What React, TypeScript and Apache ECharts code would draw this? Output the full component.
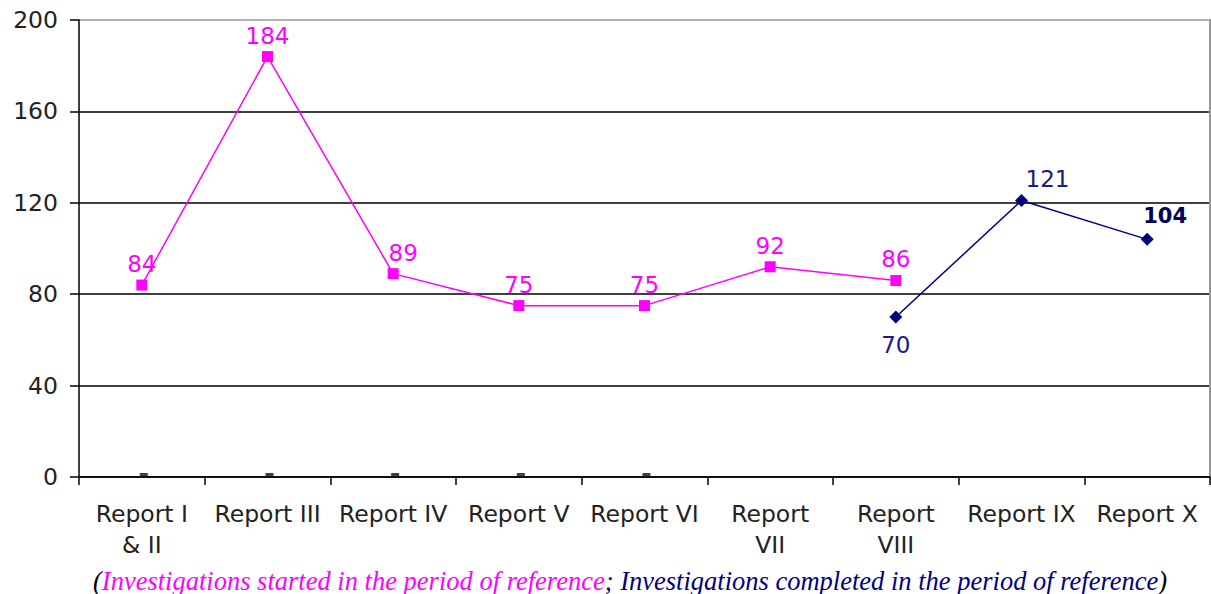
import React, { useEffect, useRef } from "react";
import * as echarts from "echarts";

const categories = [
  "Report I\n& II",
  "Report III",
  "Report IV",
  "Report V",
  "Report VI",
  "Report\nVII",
  "Report\nVIII",
  "Report IX",
  "Report X",
];
const startedValues: (number | null)[] = [84, 184, 89, 75, 75, 92, 86, null, null];
const completedValues: (number | null)[] = [null, null, null, null, null, null, 70, 121, 104];
const zeroMarks: (number | null)[] = [0, 0, 0, 0, 0, null, null, null, null];
const yTicks = [0, 40, 80, 120, 160, 200];

const MAGENTA = "#ff00ff";
const NAVY = "#000080";

export default function App() {
  const ref = useRef<HTMLDivElement>(null);
  useEffect(() => {
    document.body.style.margin = "0";
    const chart = echarts.init(ref.current!, null, { renderer: "svg" });
    const font = "DejaVu Sans";
    chart.setOption({
      animation: false,
      backgroundColor: "#ffffff",
      grid: { left: 79, right: 1, top: 20, bottom: 117, containLabel: false },
      xAxis: {
        type: "category",
        data: categories,
        boundaryGap: true,
        axisLine: { lineStyle: { color: "#000", width: 1.5 } },
        axisTick: { show: true, length: 8, lineStyle: { color: "#000", width: 1.5 } },
        axisLabel: {
          interval: 0,
          margin: 21,
          color: "#222",
          fontFamily: font,
          fontSize: 23.5,
          lineHeight: 31,
          align: "center",
        },
      },
      yAxis: [
        {
          type: "value",
          min: yTicks[0],
          max: yTicks[yTicks.length - 1],
          interval: 40,
          axisLine: { show: true, lineStyle: { color: "#000", width: 1.5 } },
          axisTick: { show: true, length: 9, lineStyle: { color: "#000", width: 1.5 } },
          axisLabel: {
            margin: 21,
            color: "#222",
            fontFamily: font,
            fontSize: 23.5,
          },
          splitLine: {
            show: true,
            lineStyle: {
              color: ["#000", "#000", "#000", "#000", "#000", "#999"],
              width: 1.5,
            },
          },
        },
        {
          type: "value",
          min: yTicks[0],
          max: yTicks[yTicks.length - 1],
          interval: 40,
          position: "right",
          axisLine: { show: true, lineStyle: { color: "#999", width: 2 } },
          axisTick: { show: false },
          axisLabel: { show: false },
          splitLine: { show: false },
        },
      ],
      series: [
        {
          name: "Investigations started",
          type: "line",
          data: startedValues.map((v, i) =>
            i === 2 ? { value: v, label: { offset: [10, 0] } } : v
          ),
          connectNulls: false,
          symbol: "rect",
          symbolSize: 11,
          itemStyle: { color: MAGENTA },
          lineStyle: { color: MAGENTA, width: 1.5 },
          label: {
            show: true,
            position: "top",
            distance: 4,
            color: MAGENTA,
            fontFamily: font,
            fontSize: 23,
          },
          z: 3,
        },
        {
          name: "Investigations completed",
          type: "line",
          data: completedValues.map((v, i) => {
            if (v === null) return null;
            if (i === 6)
              return { value: v, label: { position: "bottom", distance: 10 } };
            if (i === 7)
              return { value: v, label: { position: "top", offset: [26, 2] } };
            if (i === 8)
              return {
                value: v,
                label: {
                  position: "top",
                  offset: [18, 0],
                  fontWeight: "bold",
                  fontSize: 21,
                  color: "#00005a",
                },
              };
            return v;
          }),
          symbol: "diamond",
          symbolSize: 13,
          itemStyle: { color: NAVY },
          lineStyle: { color: NAVY, width: 1.5 },
          label: {
            show: true,
            position: "top",
            distance: 6,
            color: "#1a1a80",
            fontFamily: font,
            fontSize: 23,
          },
          z: 4,
        },
        {
          name: "zero",
          type: "scatter",
          data: zeroMarks,
          symbol: "rect",
          symbolSize: [8, 4],
          symbolOffset: [2, -2],
          itemStyle: { color: "#111" },
          z: 5,
        },
      ],
      graphic: [
        {
          type: "text",
          left: 93,
          top: 567,
          style: {
            text:
              "{k|(}{m|Investigations started in the period of reference}{n|; Investigations completed in the period of reference}{k|)}",
            rich: {
              k: { fill: "#000", fontFamily: "Liberation Serif", fontStyle: "italic", fontSize: 26.5 },
              m: { fill: MAGENTA, fontFamily: "Liberation Serif", fontStyle: "italic", fontSize: 26.5 },
              n: { fill: NAVY, fontFamily: "Liberation Serif", fontStyle: "italic", fontSize: 26.5 },
            },
          },
        },
      ],
    });
    return () => chart.dispose();
  }, []);
  return <div ref={ref} style={{ width: 1211, height: 594 }} />;
}
